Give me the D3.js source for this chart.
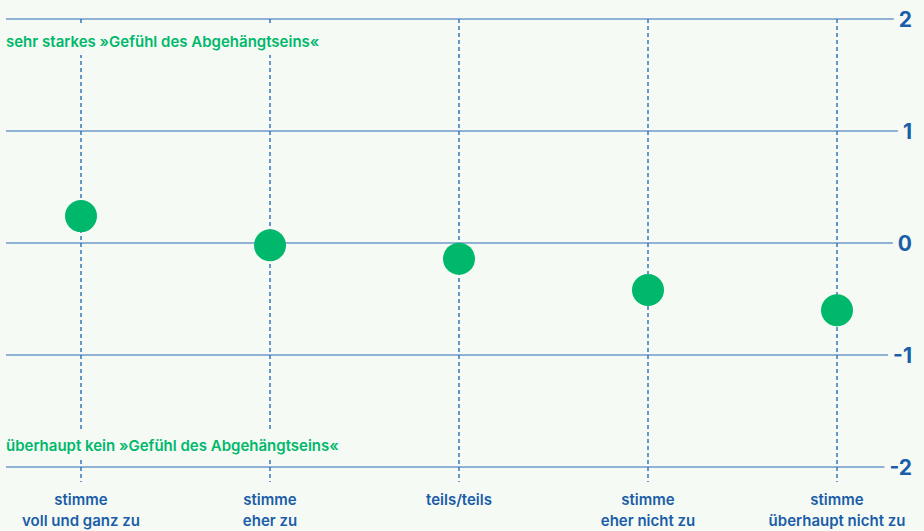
<!DOCTYPE html>
<html>
<head>
<meta charset="utf-8">
<script src="https://cdn.jsdelivr.net/npm/d3@7"></script>
<style>
  body { margin: 0; background: #f5faf4; }
  svg { display: block; font-family: Inter, "Open Sans", sans-serif; }
</style>
</head>
<body>
<div id="chart"></div>
<script>
// categories (two-line labels) and mean values
var categories = ["stimme|voll und ganz zu", "stimme|eher zu", "teils/teils", "stimme|eher nicht zu", "stimme|überhaupt nicht zu"];
var values = [0.24, -0.02, -0.14, -0.42, -0.60];
var yTicks = [2, 1, 0, -1, -2];
var topNote = "sehr starkes »Gefühl des Abgehängtseins«";
var bottomNote = "überhaupt kein »Gefühl des Abgehängtseins«";

var width = 924, height = 531;
var bg = "#f5faf4", green = "#00b86c", lineBlue = "#6d9acb", darkBlue = "#1a5da8";

var svg = d3.select("#chart").append("svg")
    .attr("width", width)
    .attr("height", height);

var x = d3.scalePoint()
    .domain(categories)
    .range([81, 837]);

var y = d3.scaleLinear()
    .domain([-2, 2])
    .range([467, 19]);

// y tick labels on the right
var tickLabels = svg.append("g").selectAll("text")
    .data(yTicks)
    .enter().append("text")
      .attr("x", 912)
      .attr("y", function(d) { return y(d); })
      .attr("dy", "0.36em")
      .attr("text-anchor", "end")
      .style("font-size", "21px")
      .style("font-weight", 700)
      .style("fill", darkBlue)
      .text(function(d) { return d; });

// horizontal grid lines, ending just before the label
var grid = svg.insert("g", ":first-child");
tickLabels.each(function(d) {
  var bb = this.getBBox();
  grid.append("line")
    .attr("x1", 6)
    .attr("x2", bb.x - 5)
    .attr("y1", y(d))
    .attr("y2", y(d))
    .attr("stroke", lineBlue)
    .attr("stroke-width", 1.5);
});

// dashed verticals
svg.append("g").selectAll("line")
    .data(categories)
    .enter().append("line")
      .attr("x1", function(d) { return x(d); })
      .attr("x2", function(d) { return x(d); })
      .attr("y1", y(2))
      .attr("y2", 482)
      .attr("stroke", "#2d6bb7")
      .attr("stroke-width", 1.4)
      .attr("stroke-dasharray", "4,3");

// green notes with background knock-out
function note(txt, yy) {
  var g = svg.append("g");
  var t = g.append("text")
      .attr("x", 6)
      .attr("y", yy)
      .style("font-size", "15px")
      .style("font-weight", 600)
      .style("fill", green)
      .text(txt);
  var bb = t.node().getBBox();
  g.insert("rect", "text")
      .attr("x", bb.x - 2)
      .attr("y", bb.y - 6)
      .attr("width", bb.width + 4)
      .attr("height", bb.height + 10)
      .attr("fill", bg);
}
note(topNote, 47);
note(bottomNote, 451);

// category labels
var cat = svg.append("g").selectAll("text")
    .data(categories)
    .enter().append("text")
      .attr("text-anchor", "middle")
      .style("font-size", "15px")
      .style("font-weight", 600)
      .style("fill", darkBlue);

cat.each(function(d) {
  var lines = d.split("|");
  var t = d3.select(this);
  lines.forEach(function(l, i) {
    t.append("tspan")
      .attr("x", x(d))
      .attr("y", 505 + i * 21)
      .text(l);
  });
});

// points
svg.append("g").selectAll("circle")
    .data(values)
    .enter().append("circle")
      .attr("cx", function(d, i) { return x(categories[i]); })
      .attr("cy", function(d) { return y(d); })
      .attr("r", 16)
      .attr("fill", green);
</script>
</body>
</html>
